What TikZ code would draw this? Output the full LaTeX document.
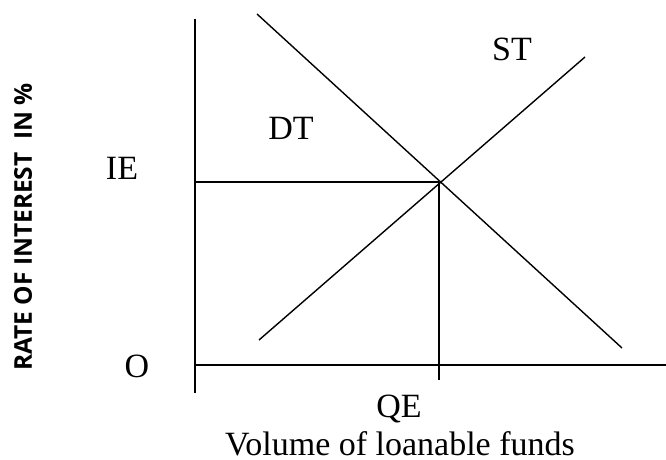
\documentclass[tikz,border=0pt]{standalone}
\usepackage{fontspec}
\setmainfont{Liberation Serif}
\newfontfamily\labelfont{Open Sans}
\begin{document}
\begin{tikzpicture}[x=1pt,y=-1pt,
  axisline/.style={line width=1.5pt},
  curve/.style={line width=1.4pt},
  lbl/.style={anchor=base,inner sep=0pt,font=\fontsize{34}{40}\selectfont}]
\useasboundingbox (0,0) rectangle (666,460);
% axes
\coordinate (ytop) at (195,19);
\coordinate (ybot) at (195,393);
\coordinate (xl) at (195,365);
\coordinate (xr) at (666,365);
\draw[axisline] (ytop) -- (ybot);
\draw[axisline] (xl) -- (xr);
% equilibrium
\coordinate (E) at (439,182);
\coordinate (IEl) at (195,182);
\coordinate (QEb) at (439,380);
\draw[axisline] (IEl) -- (E);
\draw[axisline] (E) -- (QEb);
% curves
\coordinate (DTa) at (257,14);
\coordinate (DTb) at (622,348);
\coordinate (STa) at (259,340);
\coordinate (STb) at (585,57);
\draw[curve] (DTa) -- (DTb);
\draw[curve] (STa) -- (STb);
% labels
\node[lbl] (st) at (512,60) {ST};
\node[lbl] (dt) at (291,139) {DT};
\node[lbl] (ie) at (122,179) {IE};
\node[lbl] (o) at (137,377) {O};
\node[lbl] (qe) at (399,417) {QE};
\node[lbl] (vol) at (400,455) {Volume of loanable funds};
\node[rotate=90,inner sep=0pt,font=\labelfont\bfseries\fontsize{24.5}{28}\selectfont] (ylab) at (23,227) {RATE OF INTEREST\ \ IN \%};
\end{tikzpicture}
\end{document}
